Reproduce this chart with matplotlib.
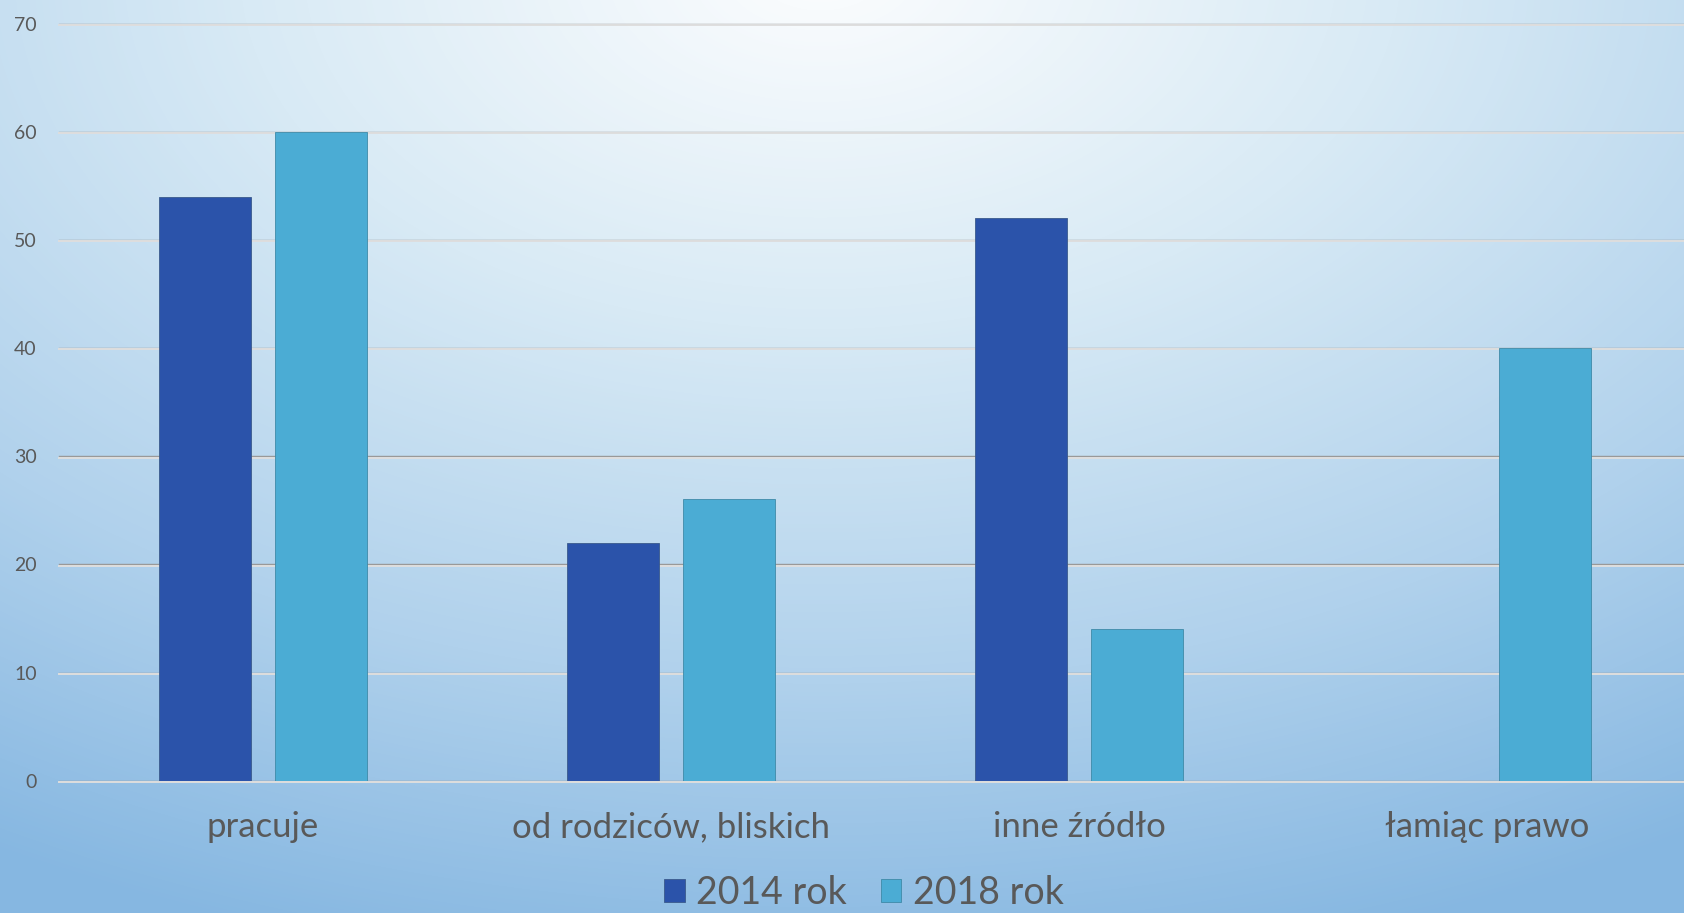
import numpy as np
import matplotlib
matplotlib.use("Agg")
import matplotlib.pyplot as plt
from matplotlib.colors import LinearSegmentedColormap
from matplotlib.patches import Patch

# data
categories = ["pracuje", "od rodziców, bliskich", "inne źródło", "łamiąc prawo"]
series_names = ["2014 rok", "2018 rok"]
values_2014 = [54, 22, 52, 0]
values_2018 = [60, 26, 14, 40]
y_ticks = [0, 10, 20, 30, 40, 50, 60, 70]

col_2014 = "#2B53AA"
col_2018 = "#4BACD4"
text_col = "#595959"

plt.rcParams["font.family"] = ["Lato", "DejaVu Sans"]

W, H = 1684, 913
fig = plt.figure(figsize=(W / 100, H / 100), dpi=100)

# radial background gradient, white at top centre, blue towards the corners
bg = fig.add_axes([0, 0, 1, 1], zorder=-10)
yy, xx = np.mgrid[0:H, 0:W]
d = np.sqrt(((xx - 820) / 1650.0) ** 2 + ((yy + 30) / 1020.0) ** 2)
d = np.clip(d, 0, 1)
cmap = LinearSegmentedColormap.from_list(
    "bg", [(0.0, "#fcfdfe"), (0.35, "#d8eaf5"), (0.7, "#b0d1ec"), (1.0, "#86b7e1")])
bg.imshow(d, cmap=cmap, vmin=0, vmax=1, aspect="auto", interpolation="bilinear")
bg.axis("off")

ax = fig.add_axes([59 / W, 1 - 780.7 / H, (1691 - 59) / W, (780.7 - 23.5) / H])
ax.patch.set_alpha(0)

x = np.arange(len(categories))
bw = 0.227
off = 0.142
ax.bar(x - off, values_2014, bw, color=col_2014, edgecolor="#3a5a8c", linewidth=0.6, zorder=3)
ax.bar(x + off, values_2018, bw, color=col_2018, edgecolor="#3f8aa8", linewidth=0.6, zorder=3)

for t in y_ticks:
    ax.axhline(t, color="#999999", linewidth=1.0, zorder=1, clip_on=False)
    ax.axhline(t - 0.13, color="#dedede", linewidth=1.4, zorder=1, clip_on=False)

ax.set_xlim(-0.5, 3.5)
ax.set_ylim(0, 70)
ax.set_yticks(y_ticks)
ax.set_yticklabels([str(t) for t in y_ticks], fontsize=14, color=text_col)
ax.set_xticks(x)
ax.set_xticklabels(categories, fontsize=25, color=text_col)
ax.tick_params(axis="y", length=0, pad=16)
ax.tick_params(axis="x", length=0, pad=22)
for s in ax.spines.values():
    s.set_visible(False)

handles = [Patch(facecolor=col_2014, edgecolor="#3a5a8c", linewidth=0.6),
           Patch(facecolor=col_2018, edgecolor="#3f8aa8", linewidth=0.6)]
leg = fig.legend(handles, series_names, loc="center", bbox_to_anchor=(0.513, 1 - 893 / H),
                 ncol=2, frameon=False, fontsize=27, handlelength=0.55, handleheight=0.55,
                 handletextpad=0.3, columnspacing=0.9, borderpad=0)
for t in leg.get_texts():
    t.set_color(text_col)

fig.savefig("out.png", dpi=100)
